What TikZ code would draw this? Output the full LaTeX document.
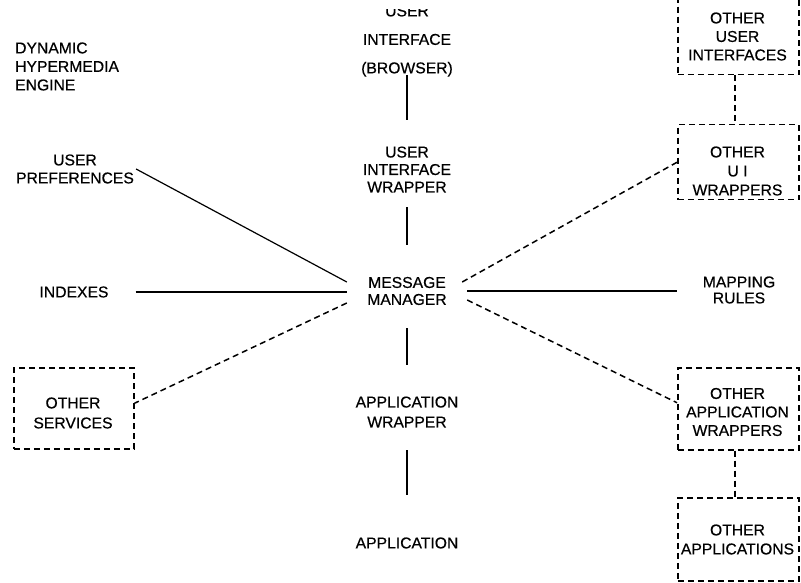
\documentclass[tikz,border=0pt]{standalone}
\usepackage{fontspec}
\setmainfont{Liberation Sans}[UprightFeatures={FakeBold=0.5}]
\begin{document}
\begin{tikzpicture}[x=1pt,y=-1pt,
  lead/.style={font=\fontsize{15.7}{#1}\selectfont},
  lbl/.style={lead=18, align=center, inner sep=0pt},
  link/.style={line width=1.2pt},
  dlink/.style={line width=1.5pt, dash pattern=on 6pt off 4pt},
  dbox/.style={draw, line width=1.5pt, dash pattern=on 6pt off 4pt,
    minimum width=121pt, inner sep=0pt, anchor=north west}]
\useasboundingbox (0,0) rectangle (801,583);

% central stack
\begin{scope}
  \clip (0,10) rectangle (801,583);
  \node[lbl, lead=28.5] (uiTop) at (407,41) {USER\\INTERFACE\\(BROWSER)};
\end{scope}
\node[lbl, lead=17.5] (uiw) at (407,169.5) {USER\\INTERFACE\\WRAPPER};
\node[lbl, lead=17, minimum width=120pt] (mm) at (407,291) {MESSAGE\\MANAGER};
\node[lbl, lead=20] (aw) at (407,412) {APPLICATION\\WRAPPER};
\node[lbl] (app) at (407,543) {APPLICATION};

% left column
\node[lbl, lead=18.5, align=left, anchor=west] (dhe) at (15,66.5) {DYNAMIC\\HYPERMEDIA\\ENGINE};
\node[lbl] (upref) at (75,169) {USER\\PREFERENCES};
\node[lbl] (idx) at (74,292) {INDEXES};
\node[dbox, minimum width=120pt, minimum height=81pt] (os) at (13,367) {};
\node[lbl, lead=20] (osT) at (73,413) {OTHER\\SERVICES};

% right column
\node[lbl, lead=16] (map) at (739,290) {MAPPING\\RULES};
\node[dbox, minimum height=78pt] (ouif) at (677,-4) {};
\node[lbl, lead=18.5] (ouifT) at (737.5,36.5) {OTHER\\USER\\INTERFACES};
\node[dbox, minimum height=75pt] (ouiw) at (677,124) {};
\node[lbl, lead=19] (ouiwT) at (737.5,171) {OTHER\\U I\\WRAPPERS};
\node[dbox, minimum height=82pt] (oaw) at (677,367) {};
\node[lbl, lead=18.5] (oawT) at (737.5,412) {OTHER\\APPLICATION\\WRAPPERS};
\node[dbox, minimum height=83pt] (oap) at (677,497) {};
\node[lbl, lead=19] (oapT) at (737.5,539.5) {OTHER\\APPLICATIONS};

% vertical links of the central stack
\draw[link, shorten <=34pt, shorten >=49.5pt] (uiTop.center) -- (uiw.center);
\draw[link, shorten <=37.5pt, shorten >=46pt] (uiw.center) -- (mm.center);
\draw[link, shorten <=37pt, shorten >=47pt] (mm.center) -- (aw.center);
\draw[link, shorten <=38pt, shorten >=48pt] (aw.center) -- (app.center);

% links to the message manager
\draw[link] ([xshift=2pt]upref.east) -- ([yshift=9pt]mm.west);
\draw[link, shorten <=27pt] (idx.east) -- (idx.east -| mm.west);
\draw[link, shorten >=26pt] (mm.east) -- (mm.east -| map.west);
\draw[dlink] ([yshift=-12pt]mm.west) -- ([yshift=5pt]os.east);
\draw[dlink] ([xshift=-5pt,yshift=9pt]mm.east) -- (ouiw.west);
\draw[dlink] ([yshift=-9pt]mm.east) -- ([yshift=6pt]oaw.west);

% links between the optional boxes
\draw[dlink] ([xshift=-3.5pt]ouif.south) -- ([xshift=-3.5pt]ouiw.north);
\draw[dlink] ([xshift=-3.5pt]oaw.south) -- ([xshift=-3.5pt]oap.north);
\end{tikzpicture}
\end{document}
